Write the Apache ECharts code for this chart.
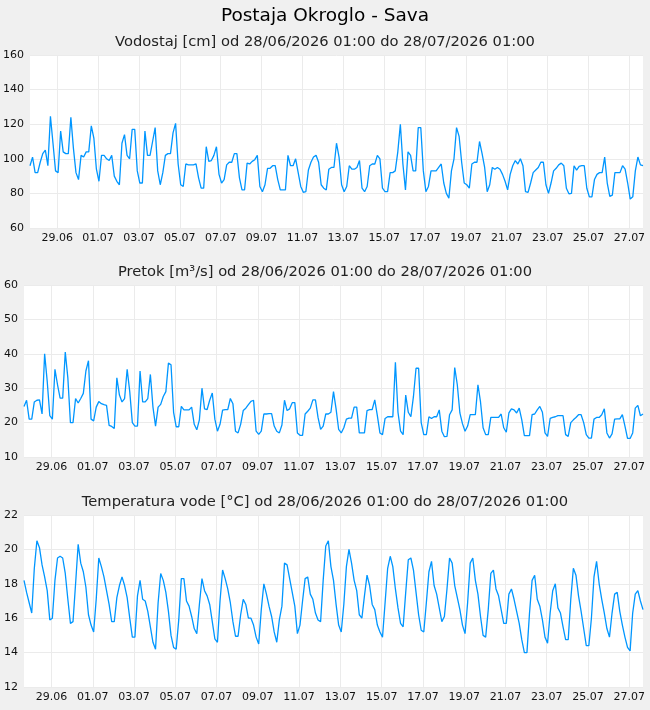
<!DOCTYPE html>
<html>
<head>
<meta charset="utf-8">
<script src="https://cdn.jsdelivr.net/npm/echarts@6/dist/echarts.min.js"></script>
<style>
  html, body { margin: 0; padding: 0; background: #f0f0f0; }
  #chart { width: 650px; height: 710px; }
</style>
</head>
<body>
<div id="chart"></div>
<script>
// readings every 3 hours starting 28/06/2026 01:00
const stepHours = 3;
const tickLabels = ['29.06', '01.07', '03.07', '05.07', '07.07', '09.07', '11.07', '13.07',
  '15.07', '17.07', '19.07', '21.07', '23.07', '25.07', '27.07'];

const levelValues = [
  96, 101, 92, 92, 98, 103, 105, 96, 124.6, 109,
  93, 92, 116, 104, 103, 103, 124, 106, 92, 88,
  102, 101, 104, 104, 119, 112, 94, 87, 102, 102,
  100, 99, 102, 90, 87, 85, 109, 114, 102, 100,
  117, 117, 93, 86, 86, 116, 102, 102, 110, 118,
  93, 85, 92, 102, 103, 103, 115, 120.5, 97, 85,
  84, 97, 96.5, 96.5, 96.5, 97, 89, 83, 83, 107,
  98.5, 99, 102, 107, 91, 86, 88, 96.5, 98, 98,
  103, 103, 89, 82, 82, 97.5, 97, 98.5, 99.5, 102,
  84, 81, 85, 94.5, 94.5, 96, 96, 88, 82, 82,
  82, 102, 96, 96, 100, 92, 84, 80.6, 81, 93.5,
  98, 101, 102, 98, 85, 83, 82, 94, 95, 95,
  109, 101, 85, 81, 84, 96, 94, 94, 95, 99,
  83, 81, 84, 96, 97, 97, 102, 100, 83, 81,
  81, 92, 92, 93, 104, 120, 97, 82, 104, 102,
  93, 93, 118, 118, 93, 81, 84, 93, 93, 93,
  95, 97, 86, 80, 77.3, 93, 100, 118, 113, 98,
  86, 85, 83, 97, 98, 98, 110, 103, 95, 81,
  85, 95, 94, 95, 94, 91, 87, 82, 91, 96,
  99, 97, 100, 96, 81, 80.6, 86, 92, 93.5, 95,
  98, 98, 85, 80, 86, 93, 94.5, 96.5, 97.5, 96,
  83, 79.8, 80, 96, 93.5, 95.6, 96, 96, 83, 78,
  78, 88, 91, 92, 92, 101, 86, 78.3, 79, 92,
  92, 92, 96, 94, 86, 76.7, 78, 93, 101, 96.5,
  96
];

const flowValues = [
  24.7, 26.5, 21, 21, 26, 26.5, 26.6, 22.5, 40, 32,
  22, 21, 35.5, 31, 27.1, 27.1, 40.5, 33, 20, 20,
  27, 25.7, 27, 28.5, 35, 38, 21, 20.5, 24.5, 26.1,
  25.5, 25.2, 25, 19.2, 18.9, 18.3, 33, 28, 26, 27,
  35.5, 29, 20, 19, 19, 35, 26, 26, 27, 34,
  24.5, 19, 24.5, 25.3, 27.6, 29, 37.3, 36.8, 23, 18.8,
  18.8, 24.7, 23.7, 23.7, 23.7, 24.5, 19.5, 17.9, 20.8, 30,
  24, 23.8, 26.5, 28.6, 21, 17.5, 19.5, 23.6, 23.8, 23.8,
  27, 25.5, 17.5, 17, 19.5, 23.5, 24.2, 25.2, 26.2, 26.5,
  17.5, 16.6, 17.5, 22.5, 22.5, 22.6, 22.6, 19, 17.5, 17,
  19.3, 26.5, 23.5, 24, 25.8, 25.8, 17, 16.3, 16.3, 22.5,
  23.3, 24.2, 26.6, 26.6, 21.5, 18, 19, 22.5, 22.5, 23,
  29, 24, 18, 17, 18.5, 21, 21.3, 21.3, 24.5, 24.5,
  17, 17, 17, 23.5, 23.8, 23.8, 26.6, 22, 17, 16.5,
  21.2, 21.7, 21.7, 21.7, 37.5, 23, 17.5, 16.5, 28, 23,
  21.7, 27.6, 35.8, 35.8, 20, 16.5, 16.5, 21.7, 21.2, 21.7,
  21.7, 23.7, 17.5, 15.9, 16, 22.3, 23.7, 36, 31, 22.8,
  19.7, 17.5, 19, 22.3, 22.3, 22.3, 31, 26, 18.5, 16.5,
  16.5, 21.5, 21.5, 21.5, 21.5, 22.5, 18.5, 17.2, 22.8, 24,
  23.7, 22.8, 24.2, 20.8, 16.2, 16.2, 16.2, 22.3, 22.5, 23.7,
  24.7, 23, 17, 16, 21.2, 21.5, 21.7, 22, 22, 22,
  16.5, 16, 20, 20.8, 21.5, 22.3, 22.3, 20, 16.5, 15.5,
  15.5, 21, 21.5, 21.5, 22.3, 24, 17, 15.5, 16.7, 21,
  21.1, 21.1, 22.3, 19, 15.4, 15.4, 17, 24.2, 25, 22,
  22.5
];

const tempValues = [
  18.2, 17.5, 16.9, 16.3, 18.9, 20.5, 20.1, 19.1, 18.4, 17.6,
  15.9, 16.0, 18.2, 19.5, 19.6, 19.5, 18.6, 17.1, 15.7, 15.8,
  18.0, 20.3, 19.2, 18.7, 17.8, 16.2, 15.6, 15.2, 17.1, 19.5,
  19.0, 18.4, 17.6, 16.8, 15.8, 15.8, 17.2, 17.9, 18.4, 17.9,
  17.2, 16.0, 14.9, 14.9, 17.3, 18.2, 17.1, 17.0, 16.4, 15.5,
  14.6, 14.2, 16.9, 18.6, 18.2, 17.5, 16.4, 15.0, 14.3, 14.2,
  15.9, 18.3, 18.3, 17.0, 16.7, 16.1, 15.4, 15.1, 16.8, 18.3,
  17.6, 17.3, 16.8, 15.8, 14.8, 14.6, 17.0, 18.8, 18.3, 17.7,
  16.9, 15.8, 14.95, 14.95, 16.2, 17.1, 16.8, 16.0, 16.0, 15.6,
  14.9, 14.5, 16.5, 18.0, 17.4, 16.7, 16.1, 15.2, 14.6, 15.9,
  16.7, 19.2, 19.1, 18.3, 17.5, 16.7, 15.1, 15.6, 17.0, 18.3,
  18.4, 17.4, 17.1, 16.3, 15.9, 15.8, 18.2, 20.2, 20.5, 19.0,
  18.2, 16.8, 15.6, 15.2, 16.8, 19.0, 20.0, 19.2, 18.2, 17.6,
  16.2, 16.0, 17.3, 18.5, 17.9, 16.8, 16.5, 15.6, 15.2, 14.9,
  16.9, 18.9, 19.6, 19.0, 17.7, 16.6, 15.7, 15.5, 17.5, 19.4,
  19.5, 18.8, 17.5, 16.2, 15.3, 15.2, 16.9, 18.7, 19.3, 17.9,
  17.4, 16.6, 15.8, 16.1, 17.7, 19.5, 19.2, 17.9, 17.2, 16.5,
  15.6, 15.1, 16.9, 19.2, 19.5, 18.2, 17.4, 16.1, 15.0, 14.9,
  16.5, 18.6, 18.8, 17.7, 17.3, 16.5, 15.7, 15.7, 17.4, 17.7,
  17.1, 16.4, 15.7, 14.75, 14.0, 14.0, 16.3, 18.2, 18.5, 17.1,
  16.7, 15.9, 14.9, 14.55, 16.3, 17.6, 18.0, 16.6, 16.3, 15.5,
  14.75, 14.75, 17.1, 18.9, 18.5, 17.3, 16.4, 15.4, 14.4, 14.4,
  16.0, 18.4, 19.3, 18.0, 17.1, 16.3, 15.4, 14.9, 16.3, 17.4,
  17.5, 16.4, 15.6, 14.9, 14.3, 14.1, 16.3, 17.4, 17.6, 17.0,
  16.5
];

// first labelled tick is 32 h after the start, then every 2 days
const firstTick = 32;
const tickStep = 48;
const tickHours = tickLabels.map((l, i) => firstTick + i * tickStep);

function toPairs(arr) {
  return arr.map((v, i) => [i * stepHours, v]);
}

const font = 'DejaVu Sans';
const lineColor = '#0096ff';
const gridColor = '#ebebeb';

const grids = [
  { left: 30, right: 7, top: 55, height: 173 },
  { left: 24, right: 7, top: 285, height: 172 },
  { left: 24, right: 7, top: 515, height: 172 }
];

function xAxisFor(idx) {
  return {
    type: 'value', gridIndex: idx, min: 0, max: 720,
    axisLine: { show: false },
    axisTick: { show: false, customValues: tickHours },
    splitLine: { show: true, lineStyle: { color: gridColor, width: 1 } },
    axisLabel: {
      customValues: tickHours,
      margin: 5,
      fontSize: 11, color: '#111', fontFamily: font,
      formatter: v => tickLabels[Math.round((v - firstTick) / tickStep)]
    }
  };
}

function yAxisFor(idx, min, max, interval) {
  return {
    type: 'value', gridIndex: idx, min: min, max: max, interval: interval,
    axisLine: { show: false },
    axisTick: { show: false },
    splitLine: { show: true, lineStyle: { color: gridColor, width: 1 } },
    axisLabel: { margin: 6, fontSize: 11, color: '#111', fontFamily: font }
  };
}

function lineSeries(idx, data) {
  return {
    type: 'line', xAxisIndex: idx, yAxisIndex: idx,
    data: toPairs(data), showSymbol: false,
    lineStyle: { color: lineColor, width: 1.3 }, itemStyle: { color: lineColor },
    animation: false
  };
}

const chart = echarts.init(document.getElementById('chart'));
chart.setOption({
  backgroundColor: '#f0f0f0',
  animation: false,
  title: [
    { text: 'Postaja Okroglo - Sava', left: 'center', top: 2,
      textStyle: { fontSize: 18.5, fontWeight: 'normal', color: '#000', fontFamily: font } },
    { text: 'Vodostaj [cm] od 28/06/2026 01:00 do 28/07/2026 01:00', left: 'center', top: 30,
      textStyle: { fontSize: 14.7, fontWeight: 'normal', color: '#222', fontFamily: font } },
    { text: 'Pretok [m³/s] od 28/06/2026 01:00 do 28/07/2026 01:00', left: 'center', top: 260,
      textStyle: { fontSize: 14.7, fontWeight: 'normal', color: '#222', fontFamily: font } },
    { text: 'Temperatura vode [°C] od 28/06/2026 01:00 do 28/07/2026 01:00', left: 'center', top: 490,
      textStyle: { fontSize: 14.7, fontWeight: 'normal', color: '#222', fontFamily: font } }
  ],
  grid: grids.map(g => Object.assign({ show: true, backgroundColor: '#fff', borderWidth: 0 }, g)),
  xAxis: [xAxisFor(0), xAxisFor(1), xAxisFor(2)],
  yAxis: [yAxisFor(0, 60, 160, 20), yAxisFor(1, 10, 60, 10), yAxisFor(2, 12, 22, 2)],
  series: [lineSeries(0, levelValues), lineSeries(1, flowValues), lineSeries(2, tempValues)]
});
</script>
</body>
</html>
